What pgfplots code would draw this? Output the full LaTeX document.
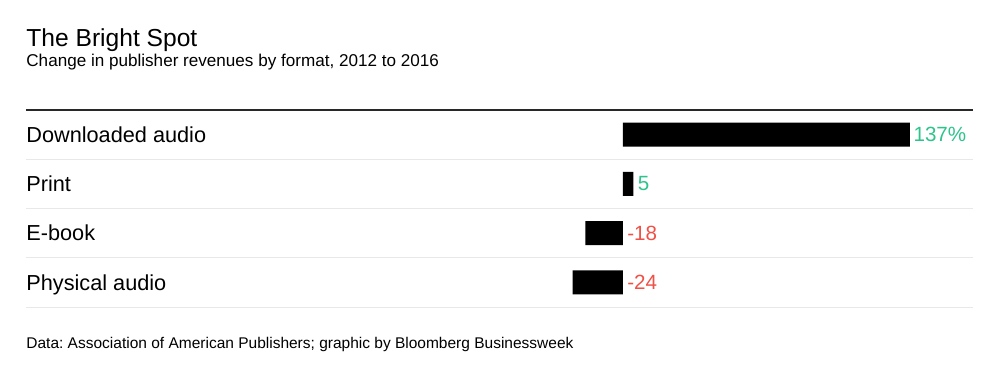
\documentclass[border=0pt]{standalone}
\usepackage{pgfplots}
\pgfplotsset{compat=1.18}
\usepackage{fontspec}
\setmainfont{Liberation Sans}
\frenchspacing
\definecolor{posgreen}{RGB}{45,196,140}
\definecolor{negred}{RGB}{240,80,70}
\definecolor{sepgray}{RGB}{232,232,232}
\definecolor{topline}{RGB}{40,40,40}
\begin{document}
\begin{tikzpicture}[x=1pt,y=1pt]
\useasboundingbox (0,0) rectangle (500,190);
\node[anchor=base west,inner sep=0,font=\fontsize{12.3}{14}\selectfont] at (13,166.5) {The Bright Spot};
\node[anchor=base west,inner sep=0,font=\fontsize{8.55}{10}\selectfont] at (13,156.5) {Change in publisher revenues by format, 2012 to 2016};
\node[anchor=base west,inner sep=0,font=\fontsize{7.75}{9}\selectfont] at (13,16) {Data: Association of American Publishers; graphic by Bloomberg Businessweek};
\begin{axis}[
  at={(13pt,36.5pt)}, anchor=south west,
  scale only axis, width=473.5pt, height=98.5pt,
  xmin=-285, xmax=167.1, ymin=-0.5, ymax=3.5,
  xbar, bar width=12pt, bar shift=0pt,
  axis line style={draw=none},
  xtick=\empty, ytick={-0.5,0.5,1.5,2.5}, yticklabels={},
  major tick length=0pt,
  ymajorgrids, grid style={sepgray, line width=0.5pt},
  clip=false,
]
\addplot[fill=black, draw=none] coordinates {(137,3) (5,2) (-18,1) (-24,0)};
\draw[topline, line width=1pt] (rel axis cs:0,1) -- (rel axis cs:1,1);
\foreach \lab/\yy in {Downloaded audio/3, Print/2, E-book/1, Physical audio/0} {
  \edef\tmp{\noexpand\node[anchor=base west,inner sep=0,yshift=-3.85pt,font=\noexpand\fontsize{10.85}{12}\noexpand\selectfont] at (axis cs:-285,\yy) {\lab};}
  \tmp
}
\node[anchor=west,inner sep=0,xshift=1.6pt,text=posgreen,font=\fontsize{10.3}{12}\selectfont] at (axis cs:137,3) {137\%};
\node[anchor=west,inner sep=0,xshift=2pt,text=posgreen,font=\fontsize{10.3}{12}\selectfont] at (axis cs:5,2) {5};
\node[anchor=west,inner sep=0,xshift=2pt,text=negred,font=\fontsize{10.3}{12}\selectfont] at (axis cs:0,1) {-18};
\node[anchor=west,inner sep=0,xshift=2pt,text=negred,font=\fontsize{10.3}{12}\selectfont] at (axis cs:0,0) {-24};
\end{axis}
\end{tikzpicture}
\end{document}
